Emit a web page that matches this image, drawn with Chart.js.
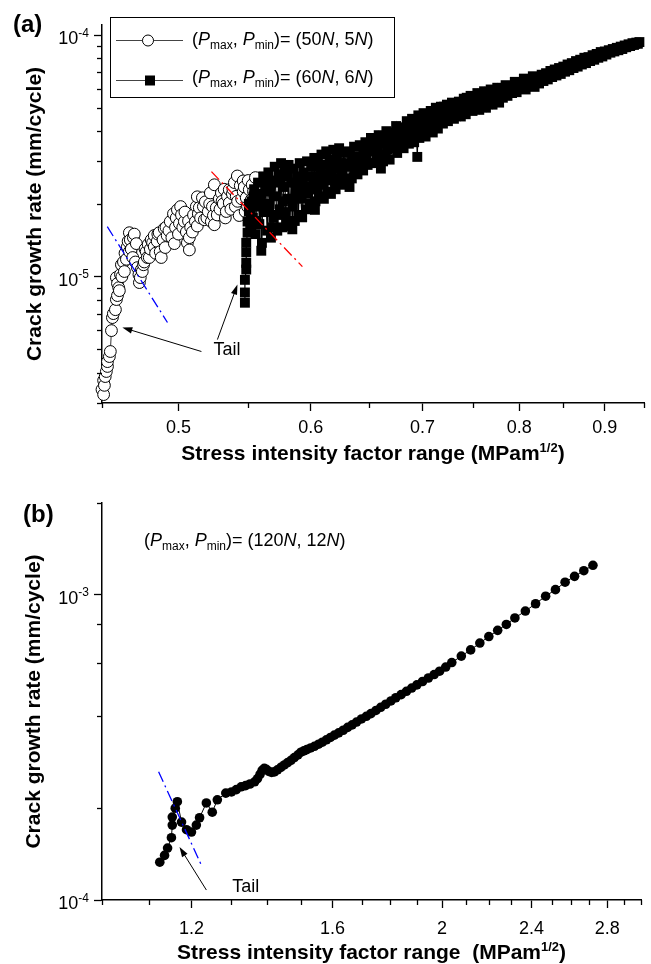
<!DOCTYPE html>
<html><head><meta charset="utf-8">
<script src="https://cdn.jsdelivr.net/npm/chart.js@4.4.1/dist/chart.umd.min.js"></script>
<style>
html,body{margin:0;padding:0;background:#fff;}
#wa{position:absolute;left:0;top:0;width:651px;height:480px;}
#wb{position:absolute;left:0;top:480px;width:651px;height:484px;}
</style></head><body>
<div id="wa"><canvas id="ca"></canvas></div>
<div id="wb"><canvas id="cb"></canvas></div>
<script>
const FAM = "'Liberation Sans', Arial, Helvetica, sans-serif";

// ---------- Panel (a) axes ----------
const xTicksA  = [0.45,0.5,0.55,0.6,0.65,0.7,0.75,0.8,0.85,0.9,0.95];
const xLabelsA = ['','0.5','','0.6','','0.7','','0.8','','0.9',''];
const yTicksA  = [3e-6,4e-6,5e-6,6e-6,7e-6,8e-6,9e-6,1e-5,2e-5,3e-5,4e-5,5e-5,6e-5,7e-5,8e-5,9e-5,1e-4];
const yMajorA  = [1e-5,1e-4];
const yExpA    = ['-5','-4'];

// (Pmax,Pmin) = (50N,5N) : open circles
const k50 = [
0.451,0.450,0.4515,0.451,0.452,0.4527,0.4534,0.4534,0.4546,0.4552,
0.4559,0.4565,0.4571,0.4584,0.459,0.4597,0.4609,0.4597,0.459,0.4616,
0.4641,0.4622,0.4654,0.4673,0.466,0.4679,0.4673,0.4699,0.4718,0.4712,
0.4725,0.4738,0.4744,0.4751,0.4757,0.477,0.4783,0.4796,0.4803,0.4816,
0.4836,0.4836,0.4856,0.4869,0.4876,0.4883,0.4903,0.491,0.4923,0.4944,
0.4966,0.4972,0.4993,0.5007,0.5021,0.5041,0.5055,0.5062,0.5076,0.5076,
0.5097,0.5118,0.5132,0.5132,0.5139,0.5146,0.5168,0.5182,0.5189,0.521,
0.5225,0.5232,0.5247,0.5254,0.5254,0.5268,0.529,0.5305,0.5319,0.5334,
0.5341,0.5363,0.5363,0.5386,0.5401,0.5408,0.5423,0.5437,0.5445,0.5467,
0.5467,0.5482,0.549,0.5513,0.5528,0.5535,0.556,0.5566];
const rate50 = [
3.25e-6,3.41e-6,3.55e-6,3.72e-6,3.86e-6,4.05e-6,4.25e-6,4.45e-6,4.67e-6,4.9e-6,
5.98e-6,6.77e-6,7.03e-6,7.3e-6,8.04e-6,8.35e-6,8.75e-6,9.36e-6,9.91e-6,1.02e-5,
1.05e-5,1.12e-5,1.18e-5,1.27e-5,1.33e-5,1.42e-5,1.52e-5,1.45e-5,1.37e-5,1.15e-5,
1.09e-5,9.45e-6,9.91e-6,1.07e-5,1.05e-5,1.15e-5,1.27e-5,1.36e-5,1.2e-5,1.42e-5,
1.48e-5,1.33e-5,1.4e-5,1.52e-5,1.27e-5,1.2e-5,1.58e-5,1.32e-5,1.48e-5,1.69e-5,
1.82e-5,1.37e-5,1.89e-5,1.66e-5,1.8e-5,1.69e-5,1.53e-5,1.38e-5,1.29e-5,1.45e-5,
1.53e-5,1.69e-5,1.62e-5,2.14e-5,1.82e-5,1.93e-5,2.12e-5,1.72e-5,2.04e-5,1.86e-5,
2.22e-5,1.69e-5,1.79e-5,1.64e-5,2.4e-5,1.93e-5,2.1e-5,2.22e-5,2.0e-5,1.75e-5,
1.86e-5,2.02e-5,2.29e-5,2.2e-5,2.45e-5,1.95e-5,2.61e-5,1.79e-5,2.38e-5,2.25e-5,
2.49e-5,1.86e-5,2.12e-5,2.29e-5,2.08e-5,2.4e-5,2.57e-5,2.18e-5];
// further circles read inside the cloud
const k50b = [
0.4605,0.4625,0.4635,0.4645,0.4665,0.4685,0.4695,0.4705,0.4735,0.4765,
0.4775,0.479,0.481,0.4825,0.4845,0.486,0.4895,0.4915,0.4935,0.4955,
0.498,0.4985,0.500,0.5015,0.503,0.5045,0.507,0.5085,0.5105,0.5125,
0.5155,0.5175,0.520,0.522,0.524,0.5275,0.5295,0.531,0.5325,0.535,
0.5375,0.539,0.5415,0.5425,0.5455,0.5475,0.550,0.5505,0.5545,0.5555];
const rate50b = [
9.0e-6,1.0e-5,1.15e-5,1.25e-5,1.4e-5,1.3e-5,1.2e-5,1.5e-5,1.02e-5,1.12e-5,
1.3e-5,1.2e-5,1.3e-5,1.38e-5,1.25e-5,1.5e-5,1.42e-5,1.6e-5,1.55e-5,1.45e-5,
1.6e-5,1.75e-5,1.5e-5,1.95e-5,1.6e-5,1.85e-5,1.7e-5,1.6e-5,1.8e-5,1.95e-5,
1.75e-5,1.95e-5,1.75e-5,2.0e-5,1.95e-5,1.8e-5,1.9e-5,2.05e-5,2.3e-5,2.15e-5,
1.9e-5,2.3e-5,2.15e-5,2.05e-5,2.1e-5,2.35e-5,1.95e-5,2.5e-5,2.25e-5,2.05e-5];

// (Pmax,Pmin) = (60N,6N) : filled squares
const k60 = [
0.548,0.548,0.548,0.549,0.549,0.549,0.549,0.550,0.550,0.551,0.551,
0.552,0.553,0.554,0.555,0.556,0.557,0.558,0.559,0.560,0.5605,
0.561,0.562,0.563,0.564,0.565,0.566,0.567,0.568,0.569,0.570,
0.571,0.572,0.573,0.574,0.575,0.576,0.577,0.578,0.579,0.580,
0.581,0.582,0.583,0.584,0.585,0.5855,0.586,0.587,0.588,0.589,
0.590,0.591,0.592,0.593,0.594,0.595,0.596,0.597,0.598,0.599,
0.600,0.601,0.602,0.603,0.6035,0.604,0.605,0.606,0.607,0.608,
0.609,0.610,0.611,0.612,0.613,0.614,0.615,0.616,0.617,0.618,
0.619,0.620,0.621,0.622,0.623,0.624,0.625,0.626,0.627,0.628,
0.630,0.632,0.633,0.634,0.635,0.637,0.639,0.640,0.642,0.644,
0.645,0.647,0.649,0.650,0.652,0.654,0.655,0.657,0.659,0.661,
0.662,0.663,0.664,0.666,0.667,0.669,0.671,0.673,0.675,0.676,
0.678,0.680,0.682,0.683,0.685,0.687,0.689,0.690,0.692,0.694,
0.695,0.696,0.697,0.699,0.701,0.703,0.704,0.706,0.708,0.710,
0.711,0.713,0.715,0.717,0.718,0.720,0.722,0.724,0.725,0.727,
0.729,0.731,0.732,0.734,0.736,0.738,0.739,0.741,0.743,0.745,
0.746,0.748,0.750,0.752,0.753,0.755,0.757,0.759,0.760,0.762,
0.764,0.766,0.767,0.769,0.771,0.773,0.774,0.776,0.778,0.780,
0.782,0.785,0.787,0.790,0.792,0.795,0.797,0.800,0.802,0.805,
0.807,0.810,0.812,0.815,0.817,0.820,0.822,0.825,0.827,0.830,
0.832,0.835,0.837,0.840,0.842,0.845,0.847,0.850,0.852,0.855,
0.857,0.860,0.862,0.865,0.867,0.870,0.872,0.875,0.877,0.880,
0.882,0.885,0.887,0.890,0.892,0.895,0.897,0.900,0.902,0.905,
0.907,0.910,0.912,0.915,0.917,0.920,0.922,0.925,0.927,0.930,
0.932,0.935,0.937,0.940,0.942];
const rate60 = [
7.8e-6,8.6e-6,9.7e-6,1.07e-5,1.14e-5,1.26e-5,1.38e-5,1.52e-5,1.69e-5,1.86e-5,2.0e-5,
1.62e-5,2.05e-5,1.75e-5,2.3e-5,1.5e-5,1.95e-5,2.45e-5,1.65e-5,2.2e-5,1.28e-5,
1.38e-5,2.6e-5,1.85e-5,2.4e-5,1.55e-5,2.7e-5,2.0e-5,1.45e-5,2.5e-5,1.75e-5,
2.85e-5,2.15e-5,1.55e-5,2.65e-5,1.9e-5,2.95e-5,1.6e-5,2.35e-5,2.75e-5,1.7e-5,
2.1e-5,2.9e-5,1.62e-5,2.45e-5,1.57e-5,1.95e-5,2.8e-5,1.7e-5,2.25e-5,2.6e-5,
1.8e-5,2.95e-5,2.1e-5,1.76e-5,2.7e-5,2.35e-5,1.9e-5,3.0e-5,2.2e-5,2.6e-5,
2.0e-5,2.85e-5,2.3e-5,3.1e-5,1.89e-5,2.05e-5,2.6e-5,2.95e-5,2.15e-5,2.75e-5,
3.2e-5,2.4e-5,2.1e-5,2.9e-5,3.3e-5,2.25e-5,2.65e-5,3.05e-5,2.2e-5,2.5e-5,
3.35e-5,2.8e-5,2.3e-5,3.1e-5,2.55e-5,3.4e-5,2.4e-5,2.95e-5,2.7e-5,3.25e-5,
2.5e-5,3.3e-5,2.35e-5,2.85e-5,2.55e-5,3.45e-5,2.95e-5,2.65e-5,3.5e-5,3.05e-5,
2.75e-5,3.6e-5,2.9e-5,3.3e-5,3.75e-5,2.95e-5,3.45e-5,3.05e-5,3.85e-5,2.8e-5,
3.55e-5,3.0e-5,3.15e-5,4.0e-5,3.35e-5,3.05e-5,3.9e-5,3.5e-5,4.2e-5,3.25e-5,
3.7e-5,4.1e-5,3.4e-5,3.85e-5,4.4e-5,3.55e-5,3.95e-5,4.5e-5,3.6e-5,4.2e-5,
3.13e-5,4.65e-5,3.75e-5,4.3e-5,4.75e-5,3.8e-5,4.45e-5,4.1e-5,4.85e-5,3.95e-5,
4.5e-5,5.0e-5,4.1e-5,4.65e-5,5.05e-5,4.3e-5,4.8e-5,5.15e-5,4.4e-5,4.9e-5,
5.25e-5,4.5e-5,5.0e-5,4.7e-5,5.3e-5,4.6e-5,5.1e-5,5.45e-5,4.7e-5,5.3e-5,
4.95e-5,5.6e-5,4.85e-5,5.4e-5,5.1e-5,5.75e-5,4.9e-5,5.5e-5,5.2e-5,5.85e-5,
5.0e-5,5.6e-5,5.3e-5,5.95e-5,5.15e-5,5.7e-5,5.45e-5,6.05e-5,5.25e-5,5.8e-5,
5.5e-5,6.2e-5,5.6e-5,6.05e-5,5.75e-5,6.4e-5,5.8e-5,6.3e-5,6.0e-5,6.6e-5,
5.95e-5,6.45e-5,6.2e-5,6.75e-5,6.1e-5,6.55e-5,6.3e-5,6.85e-5,6.45e-5,6.95e-5,
6.55e-5,7.1e-5,6.7e-5,7.2e-5,6.8e-5,7.3e-5,6.9e-5,7.4e-5,7.05e-5,7.55e-5,
7.15e-5,7.65e-5,7.3e-5,7.8e-5,7.4e-5,7.9e-5,7.55e-5,8.05e-5,7.65e-5,8.1e-5,
7.8e-5,8.25e-5,7.9e-5,8.35e-5,8.05e-5,8.5e-5,8.15e-5,8.55e-5,8.3e-5,8.65e-5,
8.45e-5,8.75e-5,8.55e-5,8.85e-5,8.65e-5,8.95e-5,8.75e-5,9.05e-5,8.9e-5,9.15e-5,
9.0e-5,9.25e-5,9.1e-5,9.3e-5,9.2e-5];
// further squares read inside the band
const k60b = [
0.5525,0.5545,0.5565,0.5585,0.5615,0.5635,0.5655,0.5675,0.5695,0.5715,
0.5735,0.5755,0.5775,0.5795,0.5815,0.5845,0.5875,0.5905,0.5935,0.5965,
0.5995,0.6025,0.6055,0.6085,0.6115,0.6145,0.6175,0.6205,0.6235,0.6265,
0.631,0.636,0.638,0.641,0.643,0.646,0.648,0.651,0.653,0.656,
0.658,0.660,0.665,0.668,0.670,0.672,0.674,0.677,0.679,0.681,
0.684,0.686,0.688,0.691,0.693,0.698,0.700,0.702,0.705,0.707,
0.709,0.712,0.714,0.716,0.719,0.721,0.723,0.726,0.728,0.730,
0.733,0.735,0.737,0.740,0.742,0.744,0.747,0.749,0.751,0.754,
0.756,0.758,0.761,0.763,0.765,0.768,0.770,0.772,0.775,0.777,
0.779,0.7835,0.786,0.7885,0.791,0.7935,0.796,0.7985,0.801,0.8035,
0.806,0.8085,0.811,0.8135,0.816,0.8185,0.821,0.8235,0.826,0.8285,
0.831,0.8335,0.836,0.8385,0.841,0.8435,0.846,0.8485,0.851,0.8535,
0.856,0.8585,0.861,0.8635,0.866,0.8685,0.871,0.8735,0.876,0.8785,
0.881,0.8835,0.886,0.8885,0.891,0.8935,0.896,0.8985,0.901,0.9035,
0.906,0.9085,0.911,0.9135,0.916,0.9185,0.921,0.9235,0.926,0.9285,
0.931,0.9335,0.936,0.9385,0.941,0.944];
const rate60b = [
1.85e-5,2.15e-5,1.7e-5,2.1e-5,2.0e-5,2.25e-5,1.9e-5,2.35e-5,1.6e-5,2.45e-5,
1.8e-5,2.55e-5,2.05e-5,1.85e-5,2.6e-5,2.1e-5,2.45e-5,2.3e-5,2.5e-5,2.6e-5,
2.3e-5,2.5e-5,2.3e-5,2.5e-5,2.6e-5,2.9e-5,2.75e-5,2.55e-5,2.95e-5,2.6e-5,
2.95e-5,3.1e-5,2.7e-5,3.15e-5,2.8e-5,3.3e-5,3.1e-5,2.95e-5,3.4e-5,3.7e-5,
3.3e-5,3.6e-5,3.65e-5,3.8e-5,3.4e-5,3.7e-5,3.95e-5,4.05e-5,3.45e-5,3.9e-5,
4.15e-5,3.75e-5,4.3e-5,4.1e-5,3.9e-5,4.5e-5,4.05e-5,4.5e-5,4.7e-5,4.35e-5,
4.6e-5,4.2e-5,4.75e-5,4.4e-5,4.65e-5,5.05e-5,4.55e-5,5.05e-5,4.65e-5,4.95e-5,
5.2e-5,4.9e-5,5.0e-5,4.85e-5,5.15e-5,5.5e-5,5.25e-5,5.1e-5,5.55e-5,5.35e-5,
5.2e-5,5.65e-5,5.45e-5,5.3e-5,5.75e-5,5.6e-5,5.5e-5,5.9e-5,5.65e-5,5.5e-5,
6.0e-5,5.85e-5,5.9e-5,6.15e-5,5.85e-5,6.1e-5,6.05e-5,6.25e-5,6.1e-5,6.35e-5,
6.3e-5,6.2e-5,6.5e-5,6.45e-5,6.4e-5,6.65e-5,6.45e-5,6.6e-5,6.6e-5,6.75e-5,
6.7e-5,6.85e-5,6.9e-5,7.0e-5,6.95e-5,7.05e-5,7.1e-5,7.2e-5,7.2e-5,7.3e-5,
7.35e-5,7.45e-5,7.5e-5,7.55e-5,7.6e-5,7.7e-5,7.7e-5,7.8e-5,7.85e-5,7.9e-5,
7.95e-5,8.0e-5,8.1e-5,8.15e-5,8.2e-5,8.3e-5,8.3e-5,8.4e-5,8.45e-5,8.5e-5,
8.55e-5,8.6e-5,8.65e-5,8.7e-5,8.75e-5,8.8e-5,8.85e-5,8.9e-5,8.95e-5,9.0e-5,
9.05e-5,9.1e-5,9.15e-5,9.2e-5,9.25e-5,9.35e-5];

// guide lines and annotations (a)
const redFitK = [0.5233,0.5932],  redFitRate = [2.72e-5,1.10e-5];
const blueFitKA = [0.4533,0.4925], blueFitRateA = [1.61e-5,6.46e-6];
const arrowsA = [[0.5161,4.90e-6,0.4628,6.16e-6],[0.5276,5.49e-6,0.5424,9.27e-6]]; // from(k,rate) -> to(k,rate)
const tailTextA = [0.5247,4.76e-6];

// ---------- Panel (b) ----------
const xTicksB  = [1.0,1.1,1.2,1.3,1.4,1.5,1.6,1.7,1.8,1.9,2.0,2.1,2.2,2.3,2.4,2.5,2.6,2.7,2.8,2.9,3.0];
const xLabelsB = ['','','1.2','','','','1.6','','','','2','','','','2.4','','','','2.8','',''];
const yTicksB  = [1e-4,2e-4,4e-4,6e-4,8e-4,1e-3,2e-3];
const yMajorB  = [1e-4,1e-3];
const yExpB    = ['-4','-3'];
const k120 = [
1.125,1.136,1.143,1.152,1.154,1.154,1.161,1.166,1.176,1.188,
1.200,1.212,1.220,1.237,1.252,1.265,1.287,1.302,1.315,1.328,
1.340,1.352,1.365,1.373,1.380,1.386,1.392,1.398,1.405,1.413,
1.421,1.430,1.440,1.450,1.460,1.470,1.480,1.491,1.500,1.509,
1.518,1.530,1.542,1.555,1.567,1.580,1.593,1.606,1.620,1.635,
1.650,1.665,1.680,1.697,1.714,1.730,1.748,1.765,1.783,1.802,
1.820,1.840,1.860,1.880,1.900,1.922,1.945,1.968,1.990,2.015,
2.04,2.08,2.12,2.16,2.20,2.24,2.28,2.32,2.37,2.42,
2.47,2.52,2.57,2.62,2.67,2.72];
const rate120 = [
1.33e-4,1.40e-4,1.48e-4,1.60e-4,1.76e-4,1.87e-4,2.0e-4,2.10e-4,1.80e-4,1.70e-4,
1.67e-4,1.76e-4,1.86e-4,2.08e-4,1.94e-4,2.13e-4,2.24e-4,2.26e-4,2.30e-4,2.35e-4,
2.37e-4,2.40e-4,2.44e-4,2.50e-4,2.58e-4,2.66e-4,2.70e-4,2.68e-4,2.64e-4,2.62e-4,
2.63e-4,2.67e-4,2.72e-4,2.77e-4,2.82e-4,2.87e-4,2.93e-4,2.99e-4,3.05e-4,3.08e-4,
3.11e-4,3.15e-4,3.19e-4,3.24e-4,3.29e-4,3.35e-4,3.41e-4,3.47e-4,3.53e-4,3.60e-4,
3.68e-4,3.75e-4,3.83e-4,3.92e-4,4.0e-4,4.08e-4,4.18e-4,4.28e-4,4.38e-4,4.49e-4,
4.6e-4,4.71e-4,4.83e-4,4.95e-4,5.07e-4,5.2e-4,5.34e-4,5.48e-4,5.62e-4,5.8e-4,
6.0e-4,6.3e-4,6.6e-4,6.95e-4,7.3e-4,7.65e-4,8.0e-4,8.4e-4,8.85e-4,9.35e-4,
9.9e-4,1.04e-3,1.1e-3,1.15e-3,1.2e-3,1.25e-3];
const blueFitKB = [1.1223,1.2246], blueFitRateB = [2.63e-4,1.30e-4];
const arrowsB = [[1.2371,1.078e-4,1.1711,1.492e-4]];
const tailTextB = [1.3041,1.062e-4];

// ---------- helpers ----------
const pts = (xs, ys) => xs.map((x,i)=>({x:x, y:ys[i]}));
const sortedPts = (xs, ys) => pts(xs, ys).sort((a,b)=>a.x-b.x);
const ST = {
  n:{font:'18px '+FAM, dy:0}, i:{font:'italic 18px '+FAM, dy:0}, s:{font:'12px '+FAM, dy:4},
  b:{font:'bold 21px '+FAM, dy:0}, bs:{font:'bold 13px '+FAM, dy:-8}
};
function richW(c, segs){ let w=0; segs.forEach(([t,s])=>{c.font=ST[s].font; w+=c.measureText(t).width;}); return w; }
function drawRich(c, segs, x, y){ let cx=x; segs.forEach(([t,s])=>{c.font=ST[s].font; c.fillText(t,cx,y+ST[s].dy); cx+=c.measureText(t).width;}); }
function arrow(c, x1,y1,x2,y2){
  const a=Math.atan2(y2-y1,x2-x1), L=10, W=3.2;
  c.beginPath(); c.moveTo(x1,y1); c.lineTo(x2-Math.cos(a)*L*0.8,y2-Math.sin(a)*L*0.8); c.stroke();
  c.beginPath(); c.moveTo(x2,y2);
  c.lineTo(x2-Math.cos(a)*L+Math.sin(a)*W, y2-Math.sin(a)*L-Math.cos(a)*W);
  c.lineTo(x2-Math.cos(a)*L-Math.sin(a)*W, y2-Math.sin(a)*L+Math.cos(a)*W);
  c.closePath(); c.fill();
}
const xTitleA = [['Stress intensity factor range (MPam','b'],['1/2','bs'],[')','b']];
const xTitleB = [['Stress intensity factor range  (MPam','b'],['1/2','bs'],[')','b']];
const yTitle = 'Crack growth rate (mm/cycle)';
const legA1 = [['(','n'],['P','i'],['max','s'],[', ','n'],['P','i'],['min','s'],[')= (50','n'],['N','i'],[', 5','n'],['N','i'],[')','n']];
const legA2 = [['(','n'],['P','i'],['max','s'],[', ','n'],['P','i'],['min','s'],[')= (60','n'],['N','i'],[', 6','n'],['N','i'],[')','n']];
const noteB = [['(','n'],['P','i'],['max','s'],[', ','n'],['P','i'],['min','s'],[')= (120','n'],['N','i'],[', 12','n'],['N','i'],[')','n']];

function commonDeco(chart, o){
  const c=chart.ctx, xs=chart.scales.x, ys=chart.scales.y, ca=chart.chartArea;
  c.save();
  c.strokeStyle='#000'; c.fillStyle='#000'; c.lineWidth=1.3;
  o.xTicks.forEach((v,i)=>{ if(!o.xLabels[i]){ const p=Math.round(xs.getPixelForValue(v))+0.5; c.beginPath(); c.moveTo(p,ca.bottom); c.lineTo(p,ca.bottom+5); c.stroke(); }});
  o.yTicks.forEach(v=>{ if(!o.yMajor.includes(v)){ const p=Math.round(ys.getPixelForValue(v))+0.5; c.beginPath(); c.moveTo(ca.left,p); c.lineTo(ca.left-5,p); c.stroke(); }});
  c.textAlign='left'; c.textBaseline='alphabetic';
  o.yMajor.forEach((v,i)=>{
    const p=ys.getPixelForValue(v);
    c.font='18px '+FAM; const w1=c.measureText('10').width;
    c.font='12px '+FAM; const w2=c.measureText(o.yExp[i]).width;
    const R=ca.left-13;
    c.font='18px '+FAM; c.fillText('10',R-w2-w1,p+9);
    c.font='12px '+FAM; c.fillText(o.yExp[i],R-w2,p+1.5);
  });
  const w=richW(c,o.xTitle); drawRich(c,o.xTitle,(ca.left+ca.right)/2-w/2,ca.bottom+o.xTitleDy);
  c.save(); c.translate(ca.left-o.yTitleDx,(ca.top+ca.bottom)/2); c.rotate(-Math.PI/2);
  c.font='bold 21px '+FAM; c.textAlign='center'; c.fillText(yTitle,0,0); c.restore();
  c.font='bold 24px '+FAM; c.textAlign='left'; c.fillText(o.panel[0],o.panel[1],o.panel[2]);
  c.lineWidth=1;
  o.arrows.forEach(a=>arrow(c,xs.getPixelForValue(a[0]),ys.getPixelForValue(a[1]),xs.getPixelForValue(a[2]),ys.getPixelForValue(a[3])));
  c.font='18px '+FAM; c.fillText('Tail',xs.getPixelForValue(o.tail[0]),ys.getPixelForValue(o.tail[1]));
  c.restore();
}

const decoA = {id:'decoA', afterDraw(chart){
  commonDeco(chart,{xTicks:xTicksA,xLabels:xLabelsA,yTicks:yTicksA,yMajor:yMajorA,yExp:yExpA,
    xTitle:xTitleA,xTitleDy:57,yTitleDx:61,panel:['(a)',13,32],arrows:arrowsA,tail:tailTextA});
  const c=chart.ctx; c.save();
  c.strokeStyle='#000'; c.lineWidth=1; c.strokeRect(110.5,17.5,284,80);
  c.strokeStyle='#444';
  c.beginPath(); c.moveTo(116,40.5); c.lineTo(183,40.5); c.stroke();
  c.beginPath(); c.moveTo(116,80.5); c.lineTo(183,80.5); c.stroke();
  c.fillStyle='#fff'; c.strokeStyle='#000';
  c.beginPath(); c.arc(148,40.5,5.5,0,Math.PI*2); c.fill(); c.stroke();
  c.fillStyle='#000'; c.fillRect(145,75.5,10,10);
  c.textAlign='left'; c.textBaseline='alphabetic';
  drawRich(c,legA1,192,44.5); drawRich(c,legA2,192,83);
  c.restore();
}};
const decoB = {id:'decoB', afterDraw(chart){
  commonDeco(chart,{xTicks:xTicksB,xLabels:xLabelsB,yTicks:yTicksB,yMajor:yMajorB,yExp:yExpB,
    xTitle:xTitleB,xTitleDy:59,yTitleDx:62,panel:['(b)',23,42],arrows:arrowsB,tail:tailTextB});
  const c=chart.ctx; c.save(); c.fillStyle='#000'; c.textAlign='left'; c.textBaseline='alphabetic';
  drawRich(c,noteB,144,66); c.restore();
}};

function makeChart(id,o){
  return new Chart(document.getElementById(id),{
    type:'scatter',
    data:{datasets:o.datasets},
    options:{
      responsive:true, maintainAspectRatio:false, animation:false, devicePixelRatio:1, events:[],
      layout:{padding:o.padding},
      plugins:{legend:{display:false}, tooltip:{enabled:false}},
      scales:{
        x:{type:'logarithmic', position:'bottom', min:o.xMin, max:o.xMax,
          afterBuildTicks:s=>{ s.ticks=o.xTicks.map(v=>({value:v})); },
          afterFit:s=>{ s.height=60; },
          ticks:{autoSkip:false, maxRotation:0, minRotation:0, padding:o.xPad, color:'#000', font:{family:FAM,size:18}, callback:(v,i)=>o.xLabels[i]},
          grid:{display:true, drawOnChartArea:false, drawTicks:true, tickLength:8, tickWidth:1.3,
            tickColor:ctx=>o.xLabels[ctx.index]?'#000':'rgba(0,0,0,0)'},
          border:{display:true, color:'#000', width:1.5}},
        y:{type:'logarithmic', position:'left', min:o.yMin, max:o.yMax,
          afterBuildTicks:s=>{ s.ticks=o.yTicks.map(v=>({value:v})); },
          afterFit:s=>{ s.width=102; },
          ticks:{autoSkip:false, color:'#000', font:{family:FAM,size:18}, callback:()=>''},
          grid:{display:true, drawOnChartArea:false, drawTicks:true, tickLength:8, tickWidth:1.3,
            tickColor:ctx=>o.yMajor.includes(o.yTicks[ctx.index])?'#000':'rgba(0,0,0,0)'},
          border:{display:true, color:'#000', width:1.5}}
      }
    },
    plugins:[o.deco]
  });
}

Chart.defaults.font.family = FAM;

makeChart('ca',{
  padding:{left:0,right:5,top:25,bottom:17}, xMin:0.45, xMax:0.95, yMin:3e-6, yMax:1.1e-4,
  xTicks:xTicksA, xLabels:xLabelsA, yTicks:yTicksA, yMajor:yMajorA, xPad:6, deco:decoA,
  datasets:[
    {label:'red fit', data:pts(redFitK,redFitRate), showLine:true, borderColor:'#ff0000', borderWidth:1.3, borderDash:[11,4,2,4], pointRadius:0, order:0},
    {label:'blue fit', data:pts(blueFitKA,blueFitRateA), showLine:true, borderColor:'#0000ff', borderWidth:1.3, borderDash:[11,4,2,4], pointRadius:0, order:0},
    {label:'(Pmax, Pmin)= (60N, 6N)', data:sortedPts(k60.concat(k60b),rate60.concat(rate60b)), showLine:true, borderColor:'#000', borderWidth:1.2,
      pointStyle:'rect', pointRadius:7, pointBackgroundColor:'#000', pointBorderWidth:0, clip:false, order:1},
    {label:'(Pmax, Pmin)= (50N, 5N)', data:sortedPts(k50.concat(k50b),rate50.concat(rate50b)), showLine:true, borderColor:'#000', borderWidth:0.8,
      pointStyle:'circle', pointRadius:5.9, pointBackgroundColor:'#fff', pointBorderColor:'#000', pointBorderWidth:1, clip:false, order:2}
  ]
});

makeChart('cb',{
  padding:{left:0,right:6,top:23,bottom:4}, xMin:1.0, xMax:3.0, yMin:1e-4, yMax:2e-3,
  xTicks:xTicksB, xLabels:xLabelsB, yTicks:yTicksB, yMajor:yMajorB, xPad:10, deco:decoB,
  datasets:[
    {label:'blue fit', data:pts(blueFitKB,blueFitRateB), showLine:true, borderColor:'#0000ff', borderWidth:1.3, borderDash:[11,4,2,4], pointRadius:0, order:0},
    {label:'(Pmax, Pmin)= (120N, 12N)', data:pts(k120,rate120), showLine:true, borderColor:'#000', borderWidth:1,
      pointStyle:'circle', pointRadius:4.8, pointBackgroundColor:'#000', pointBorderWidth:0, clip:false, order:1}
  ]
});
</script>
</body></html>
